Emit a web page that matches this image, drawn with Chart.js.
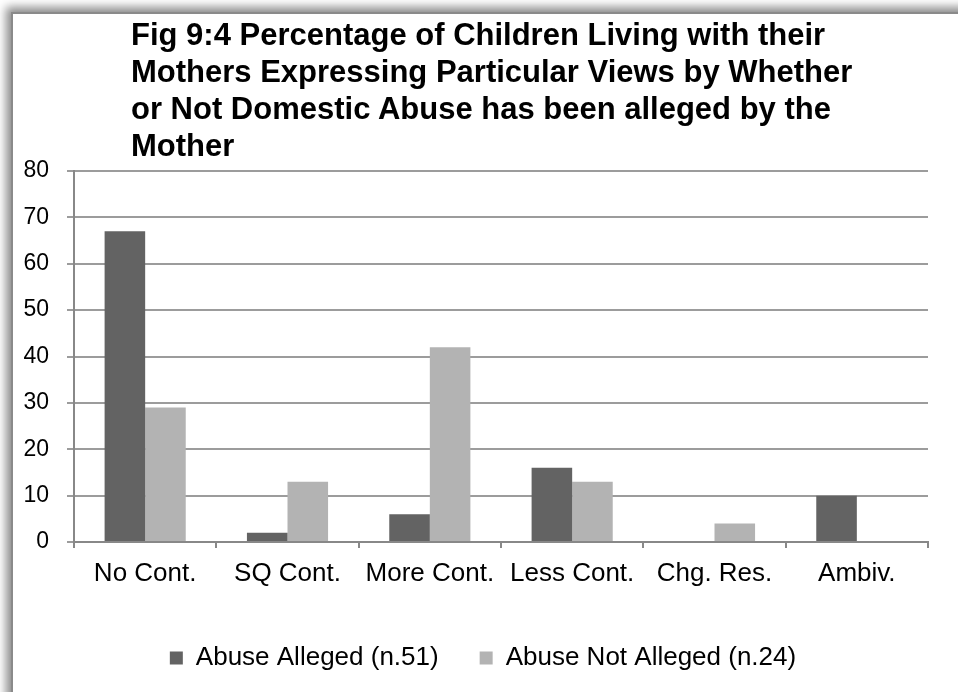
<!DOCTYPE html>
<html>
<head>
<meta charset="utf-8">
<script src="https://cdn.jsdelivr.net/npm/chart.js@4/dist/chart.umd.min.js"></script>
<style>
  html, body { margin: 0; padding: 0; background: #fff; overflow: hidden; }
  body { width: 958px; height: 692px; position: relative; font-family: "Liberation Sans", Arial, sans-serif; }
  /* cadre avec ombre en haut à gauche */
  .cadre {
    position: absolute; left: 11px; top: 12px; width: 1000px; height: 800px;
    border-left: 2px solid #8a8a8a; border-top: 2px solid #8a8a8a;
    box-shadow: -5px -5px 9px rgba(0,0,0,0.45);
    background: #fff;
  }
  .titre {
    position: absolute; left: 131px; top: 16px;
    font-weight: bold; font-size: 31px; line-height: 37px; color: #000;
    white-space: nowrap;
  }
  canvas { position: absolute; left: 0; top: 0; }
</style>
</head>
<body>
<div class="cadre"></div>
<canvas id="graphe" width="958" height="692"></canvas>
<div class="titre">Fig 9:4 Percentage of Children Living with their<br>Mothers Expressing Particular Views by Whether<br>or Not Domestic Abuse has been alleged by the<br>Mother</div>
<script>
// ===== DONNÉES =====
const categories = ['No Cont.', 'SQ Cont.', 'More Cont.', 'Less Cont.', 'Chg. Res.', 'Ambiv.'];
const abuseAlleged = [67, 2, 6, 16, 0, 10];
const abuseNotAlleged = [29, 13, 42, 13, 4, 0];
const seriesLabels = ['Abuse Alleged (n.51)', 'Abuse Not Alleged (n.24)'];

// décale la légende un peu vers la droite, comme dans l'original
const decalageLegende = {
    id: 'decalageLegende',
    afterLayout(chart) {
        if (chart.legend) {
            chart.legend.left += 19;
            chart.legend.right += 19;
        }
    }
};

// ===== GRAPHIQUE =====
const ctx = document.getElementById('graphe');
new Chart(ctx, {
    type: 'bar',
    data: {
        labels: categories,
        datasets: [
            {
                label: seriesLabels[0],
                data: abuseAlleged,
                backgroundColor: '#636363',
                borderWidth: 0
            },
            {
                label: seriesLabels[1],
                data: abuseNotAlleged,
                backgroundColor: '#b3b3b3',
                borderWidth: 0
            }
        ]
    },
    options: {
        responsive: false,
        animation: false,
        layout: { padding: { top: 171, right: 30, left: 0, bottom: 11 } },
        datasets: { bar: { categoryPercentage: 0.57, barPercentage: 1 } },
        plugins: {
            title: { display: false },
            tooltip: { enabled: false },
            legend: {
                display: true,
                position: 'bottom',
                labels: {
                    color: '#000',
                    font: { family: '"Liberation Sans", Arial, sans-serif', size: 26 },
                    boxWidth: 13,
                    boxHeight: 13,
                    padding: 41
                }
            }
        },
        scales: {
            x: {
                afterFit: (s) => { s.height = 62; },
                grid: { display: true, drawOnChartArea: false, drawTicks: true, tickLength: 6, color: '#888', lineWidth: 2, offset: true },
                border: { display: true, color: '#888', width: 2 },
                ticks: {
                    color: '#000',
                    font: { family: '"Liberation Sans", Arial, sans-serif', size: 26 },
                    padding: 10,
                    maxRotation: 0,
                    autoSkip: false
                }
            },
            y: {
                min: 0,
                max: 80,
                afterFit: (s) => { s.width = 74; },
                grid: { color: '#9c9c9c', lineWidth: 2, drawTicks: true, tickLength: 7 },
                border: { display: true, color: '#888', width: 2 },
                ticks: {
                    stepSize: 10,
                    color: '#000',
                    font: { family: '"Liberation Sans", Arial, sans-serif', size: 23 },
                    padding: 18
                }
            }
        }
    },
    plugins: [decalageLegende]
});
</script>
</body>
</html>
